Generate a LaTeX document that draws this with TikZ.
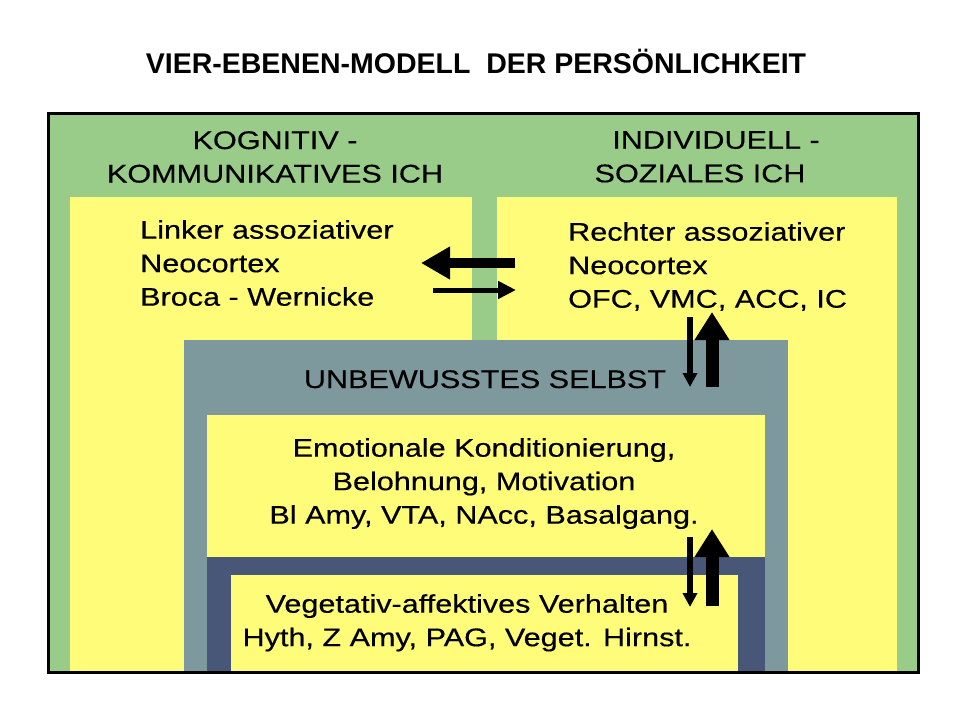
\documentclass[tikz,border=0pt]{standalone}
\usepackage{fontspec}
\usepackage{xcolor}
\usetikzlibrary{arrows.meta}
\setmainfont{Liberation Sans}
\newfontfamily\widefont[FakeStretch=1.2, FakeBold=0.4]{Liberation Sans}
\definecolor{ebenegreen}{RGB}{153, 204, 136}
\definecolor{ebeneyellow}{RGB}{255, 252, 122}
\definecolor{ebenegray}{RGB}{126, 153, 158}
\definecolor{ebenenavy}{RGB}{72, 87, 120}

\tikzset{
  layerbox/.style={inner sep=0pt, outer sep=0pt, anchor=north west},
  layertext/.style={inner sep=0pt, font=\widefont\fontsize{25.5}{33.5}\selectfont},
  bigarrow/.style={line width=#1, draw=black},
}

\begin{document}
\begin{tikzpicture}[x=1pt, y=-1pt]
\useasboundingbox (0,0) rectangle (960,720);
\fill[white] (0,0) rectangle (960,720);

% title
\node[anchor=base, inner sep=0pt, font=\bfseries\fontsize{28.5}{34}\selectfont] (title) at (476,73) {VIER-EBENEN-MODELL\ \ DER PERSÖNLICHKEIT};

% layers
\node[layerbox, fill=ebenegreen, minimum width=870pt, minimum height=559pt] (frame) at (48,113) {};
\node[layerbox, fill=ebeneyellow, minimum width=402pt, minimum height=475pt] (leftbox) at (70,197) {};
\node[layerbox, fill=ebeneyellow, minimum width=400pt, minimum height=475pt] (rightbox) at (497,197) {};
\node[layerbox, fill=ebenegray, minimum width=604pt, minimum height=332pt] (unbewusst) at (184,340) {};
\node[layerbox, fill=ebeneyellow, minimum width=558pt, minimum height=142pt] (emobox) at (207,415) {};
\node[layerbox, fill=ebenenavy, minimum width=558pt, minimum height=115pt] (vegframe) at (207,557) {};
\node[layerbox, fill=ebeneyellow, minimum width=507pt, minimum height=97pt] (vegbox) at (231,575) {};
\draw[line width=3pt] (frame.north west) rectangle (frame.south east);

% texts
\node[layertext, anchor=north, align=center] (kognitiv) at (275,131) {KOGNITIV -\\KOMMUNIKATIVES ICH};
\node[layertext, anchor=north, align=center] (sozial) at (716,131) {INDIVIDUELL -\\SOZIALES ICH\hspace*{32pt}};
\node[layertext, anchor=north west, align=left] (links) at (140,220) {Linker assoziativer\\Neocortex\\Broca - Wernicke};
\node[layertext, anchor=north west, align=left] (rechts) at (568,222) {Rechter assoziativer\\Neocortex\\OFC, VMC, ACC, IC};
\node[layertext, anchor=north] (selbst) at (485,370) {UNBEWUSSTES SELBST};
\node[layertext, anchor=north, align=center] (emotion) at (484,438) {Emotionale Konditionierung,\\Belohnung, Motivation\\Bl Amy, VTA, NAcc, Basalgang.};
\node[layertext, anchor=north, align=center] (vegetativ) at (467,594) {Vegetativ-affektives Verhalten\\Hyth, Z Amy, PAG, Veget. Hirnst.};

% arrow ends
\coordinate (ll) at (421,263);
\coordinate (lr) at (515,263);
\coordinate (rl) at (433,290);
\coordinate (rr) at (516,290);
\coordinate (d1a) at (690,317);
\coordinate (d1b) at (690,387);
\coordinate (u1a) at (712,387);
\coordinate (u1b) at (712,312);
\coordinate (d2a) at (690,537);
\coordinate (d2b) at (690,607);
\coordinate (u2a) at (712,606);
\coordinate (u2b) at (712,529);

% arrows
\draw[bigarrow=10pt, -{Triangle[length=29pt, width=31pt]}] (lr) -- (ll);
\draw[bigarrow=5pt, -{Triangle[length=18pt, width=17pt]}] (rl) -- (rr);
\draw[bigarrow=6pt, -{Triangle[length=14pt, width=14pt]}] (d1a) -- (d1b);
\draw[bigarrow=13pt, -{Triangle[length=28pt, width=33pt]}] (u1a) -- (u1b);
\draw[bigarrow=6pt, -{Triangle[length=14pt, width=14pt]}] (d2a) -- (d2b);
\draw[bigarrow=13pt, -{Triangle[length=28pt, width=33pt]}] (u2a) -- (u2b);
\end{tikzpicture}
\end{document}
